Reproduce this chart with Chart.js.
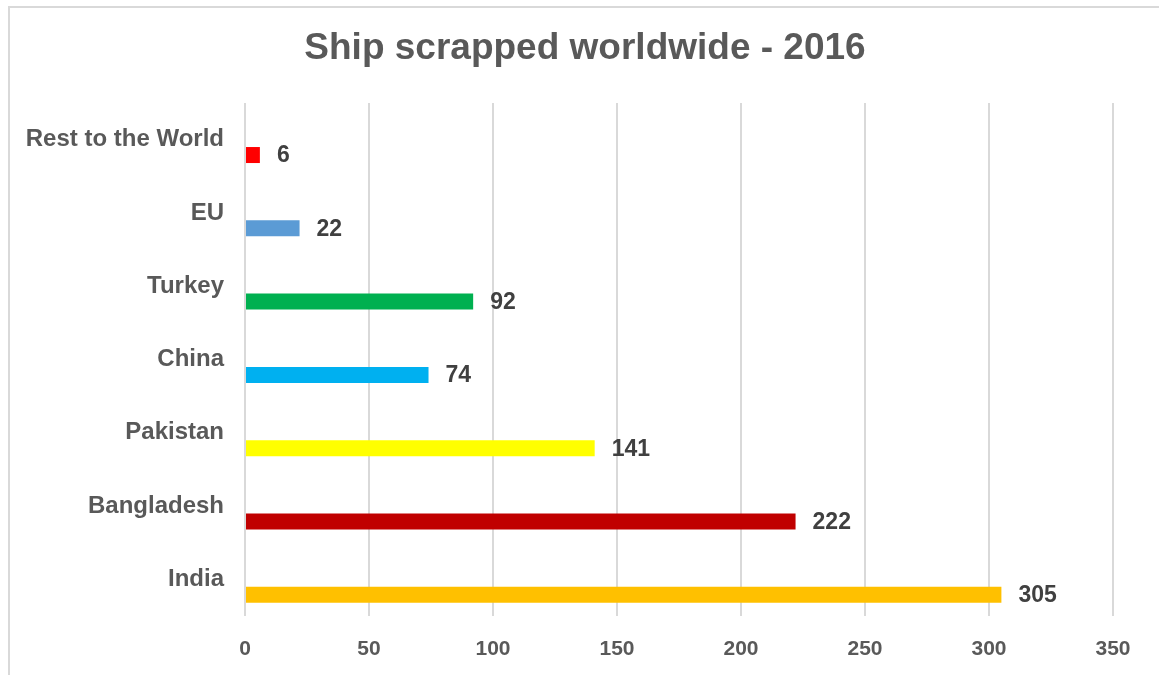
<!DOCTYPE html>
<html lang="en">
<head>
    <meta charset="UTF-8">
    <title>Ship scrapped worldwide - 2016</title>
    <script src="https://cdn.jsdelivr.net/npm/chart.js"></script>
    <style>
        html, body { margin: 0; padding: 0; background: #fff; overflow: hidden; }
        .moldura {
            position: absolute; left: 8px; top: 6px; width: 1300px; height: 800px;
            border-top: 2px solid #d9d9d9; border-left: 2px solid #d9d9d9;
        }
        .grafico { position: absolute; left: 0; top: 0; width: 1159px; height: 675px; }
    </style>
</head>
<body>
    <div class="moldura"></div>
    <div class="grafico">
        <canvas id="myChart" width="1159" height="675"></canvas>
    </div>
<script>
    // dados
    let titulo = 'Ship scrapped worldwide - 2016';
    let paises = ['Rest to the World', 'EU', 'Turkey', 'China', 'Pakistan', 'Bangladesh', 'India'];
    let navios = [6, 22, 92, 74, 141, 222, 305];
    let cores = ['#FF0000', '#5B9BD5', '#00B050', '#00B0F0', '#FFFF00', '#C00000', '#FFC000'];
    let ticksX = [0, 50, 100, 150, 200, 250, 300, 350];

    const fonte = '"Liberation Sans", Arial, sans-serif';

    // título e valor ao lado de cada barra
    const rotulos = {
        id: 'rotulos',
        afterDatasetsDraw(chart) {
            const ctx = chart.ctx;
            const meta = chart.getDatasetMeta(1);
            ctx.save();
            ctx.font = 'bold 23px ' + fonte;
            ctx.fillStyle = '#404040';
            ctx.textBaseline = 'middle';
            ctx.textAlign = 'left';
            meta.data.forEach(function (barra, i) {
                ctx.fillText(String(navios[i]), barra.x + 17, barra.y + 1);
            });

            ctx.font = 'bold 37px ' + fonte;
            ctx.fillStyle = '#595959';
            ctx.textAlign = 'center';
            ctx.fillText(titulo, 585, 49);
            ctx.restore();
        }
    };

    let dados = {
        labels: paises,
        datasets: [
            { label: 'vazio', data: paises.map(function () { return null; }) },
            {
                label: 'Navios',
                data: navios,
                backgroundColor: cores,
                borderWidth: 0
            }
        ]
    };

    const config = {
        type: 'bar',
        data: dados,
        options: {
            indexAxis: 'y',
            responsive: false,
            animation: false,
            datasets: { bar: { categoryPercentage: 0.84, barPercentage: 0.52 } },
            layout: { padding: { left: 20, right: 46, top: 103, bottom: 0 } },
            plugins: {
                legend: { display: false },
                tooltip: { enabled: false },
                title: { display: false }
            },
            scales: {
                x: {
                    min: 0,
                    max: 350,
                    afterBuildTicks: function (scale) {
                        scale.ticks = ticksX.map(function (v) { return { value: v }; });
                    },
                    afterFit: function (scale) { scale.height = 59; },
                    grid: { color: '#d9d9d9', lineWidth: 2, drawTicks: false },
                    border: { display: false },
                    ticks: {
                        color: '#595959',
                        padding: 21,
                        font: { family: fonte, size: 21, weight: 'bold' }
                    }
                },
                y: {
                    afterFit: function (scale) { scale.width = 225; },
                    grid: { display: false, drawTicks: false },
                    border: { display: false },
                    ticks: {
                        color: '#595959',
                        padding: 21,
                        font: { family: fonte, size: 24, weight: 'bold' }
                    }
                }
            }
        },
        plugins: [rotulos]
    };

    let myChart = new Chart(document.getElementById('myChart'), config);
</script>
</body>
</html>
